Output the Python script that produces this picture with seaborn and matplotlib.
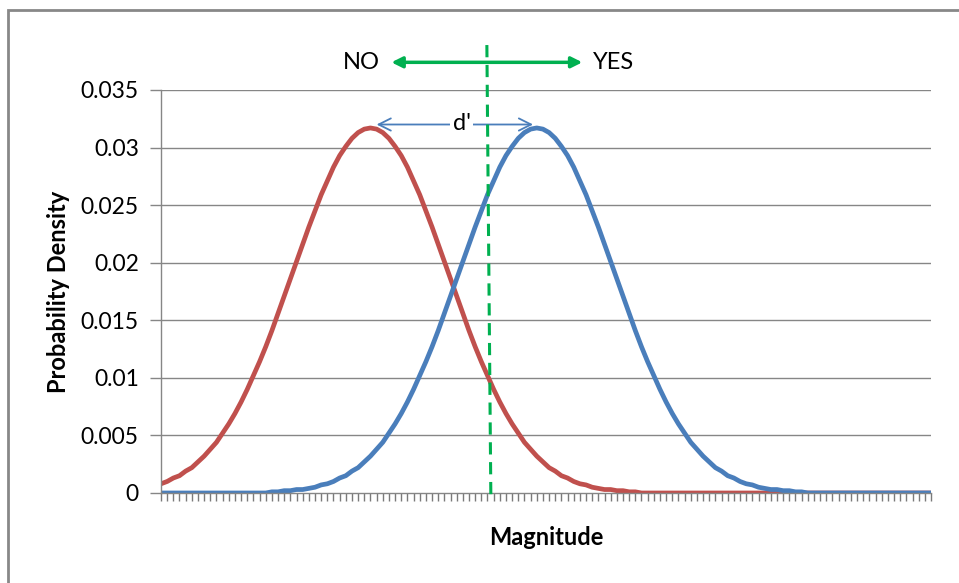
import matplotlib
matplotlib.use("Agg")
import matplotlib.pyplot as plt
import seaborn as sns
import pandas as pd
from matplotlib.patches import Rectangle

# --- Data ---
magnitude = list(range(126))

noise = [
    0.0008, 0.0010, 0.0013, 0.0015, 0.0019, 0.0022, 0.0027, 0.0032, 0.0038, 0.0044,
    0.0052, 0.0060, 0.0069, 0.0079, 0.0090, 0.0102, 0.0114, 0.0127, 0.0141, 0.0156,
    0.0171, 0.0186, 0.0201, 0.0216, 0.0231, 0.0245, 0.0259, 0.0271, 0.0283, 0.0293,
    0.0301, 0.0308, 0.0313, 0.0316, 0.0317,
    0.0316, 0.0313, 0.0308, 0.0301, 0.0293, 0.0283, 0.0271, 0.0259, 0.0245, 0.0231,
    0.0216, 0.0201, 0.0186, 0.0171, 0.0156, 0.0141, 0.0127, 0.0114, 0.0102, 0.0090,
    0.0079, 0.0069, 0.0060, 0.0052, 0.0044, 0.0038, 0.0032, 0.0027, 0.0022, 0.0019,
    0.0015, 0.0013, 0.0010, 0.0008, 0.0007, 0.0005, 0.0004, 0.0003, 0.0003, 0.0002,
    0.0002, 0.0001, 0.0001,
    0, 0, 0, 0, 0, 0, 0, 0, 0, 0, 0, 0, 0, 0, 0, 0, 0, 0, 0, 0, 0, 0, 0, 0,
    0, 0, 0, 0, 0, 0, 0, 0, 0, 0, 0, 0, 0, 0, 0, 0, 0, 0, 0, 0, 0, 0, 0, 0,
]

signal = [
    0, 0, 0, 0, 0, 0, 0, 0, 0, 0, 0, 0, 0, 0, 0, 0, 0, 0,
    0.0001, 0.0001, 0.0002, 0.0002, 0.0003, 0.0003, 0.0004, 0.0005, 0.0007, 0.0008,
    0.0010, 0.0013, 0.0015, 0.0019, 0.0022, 0.0027, 0.0032, 0.0038, 0.0044, 0.0052,
    0.0060, 0.0069, 0.0079, 0.0090, 0.0102, 0.0114, 0.0127, 0.0141, 0.0156, 0.0171,
    0.0186, 0.0201, 0.0216, 0.0231, 0.0245, 0.0259, 0.0271, 0.0283, 0.0293, 0.0301,
    0.0308, 0.0313, 0.0316, 0.0317,
    0.0316, 0.0313, 0.0308, 0.0301, 0.0293, 0.0283, 0.0271, 0.0259, 0.0245, 0.0231,
    0.0216, 0.0201, 0.0186, 0.0171, 0.0156, 0.0141, 0.0127, 0.0114, 0.0102, 0.0090,
    0.0079, 0.0069, 0.0060, 0.0052, 0.0044, 0.0038, 0.0032, 0.0027, 0.0022, 0.0019,
    0.0015, 0.0013, 0.0010, 0.0008, 0.0007, 0.0005, 0.0004, 0.0003, 0.0003, 0.0002,
    0.0002, 0.0001, 0.0001,
    0, 0, 0, 0, 0, 0, 0, 0, 0, 0, 0, 0, 0, 0, 0, 0, 0, 0, 0, 0, 0,
]

y_ticks = [0, 0.005, 0.01, 0.015, 0.02, 0.025, 0.03, 0.035]
y_labels = ["0", "0.005", "0.01", "0.015", "0.02", "0.025", "0.03", "0.035"]

df = pd.DataFrame({"Magnitude": magnitude, "Noise": noise, "Signal": signal})

# --- Styling ---
sns.set_style("white")
plt.rcParams["font.family"] = ["Lato", "DejaVu Sans"]
plt.rcParams["text.color"] = "black"

red = "#C0504D"
blue = "#4A7EBB"
green = "#00B050"
grid_grey = "#868686"

fig = plt.figure(figsize=(9.59, 5.83), dpi=100)
ax = fig.add_axes([0.1679, 0.1544, 0.8029, 0.6913])

# outer chart border (Excel chart area)
fig.patches.append(Rectangle((8 / 959, -0.1), 1.2, 1 - 10 / 583 + 0.1,
                             transform=fig.transFigure, fill=False,
                             edgecolor="#888888", lw=2))

for yt in y_ticks[1:]:
    ax.axhline(yt, color=grid_grey, lw=1, zorder=0)

sns.lineplot(data=df, x="Magnitude", y="Noise", color=red, lw=3.4, ax=ax)
sns.lineplot(data=df, x="Magnitude", y="Signal", color=blue, lw=3.4, ax=ax)

ax.set_xlim(0, 125)
ax.set_ylim(0, 0.035)
ax.set_yticks(y_ticks)
ax.set_yticklabels(y_labels, fontsize=16.5, color="black")
ax.set_xticks(magnitude)
ax.set_xticklabels([])
ax.tick_params(axis="x", bottom=True, length=5.5, width=1, color="#7a7a7a", direction="out")
ax.tick_params(axis="y", left=True, length=8, width=1, color=grid_grey, direction="out", pad=8)

for s in ["top", "right"]:
    ax.spines[s].set_visible(False)
for s in ["left", "bottom"]:
    ax.spines[s].set_color(grid_grey)
    ax.spines[s].set_linewidth(1)

ax.set_xlabel("Magnitude", fontsize=17, fontweight="bold", labelpad=15, color="black")
ax.set_ylabel("Probability Density", fontsize=17, fontweight="bold", labelpad=8, color="black")

# criterion line
ax.plot([52.9, 53.55], [0.0389, -0.0006], color=green, lw=2.2,
        dashes=(4, 2.5), clip_on=False, zorder=5)

# NO / YES decision arrow
ax.annotate("", xy=(37.4, 0.0374), xytext=(68.4, 0.0374),
            arrowprops=dict(arrowstyle="<|-|>", color=green, lw=2.5,
                            mutation_scale=16, shrinkA=0, shrinkB=0),
            annotation_clip=False)
ax.text(32.6, 0.0374, "NO", fontsize=17, ha="center", va="center")
ax.text(73.4, 0.0374, "YES", fontsize=17, ha="center", va="center")

# d' arrow
ax.annotate("", xy=(35.0, 0.0320), xytext=(60.4, 0.0320),
            arrowprops=dict(arrowstyle="<->", color=blue, lw=1.3,
                            mutation_scale=22, shrinkA=0, shrinkB=0),
            annotation_clip=False)
ax.text(48.8, 0.0321, "d'", fontsize=17, ha="center", va="center",
        bbox=dict(facecolor="white", edgecolor="none", pad=1.5))

fig.savefig("out.png", dpi=100)
